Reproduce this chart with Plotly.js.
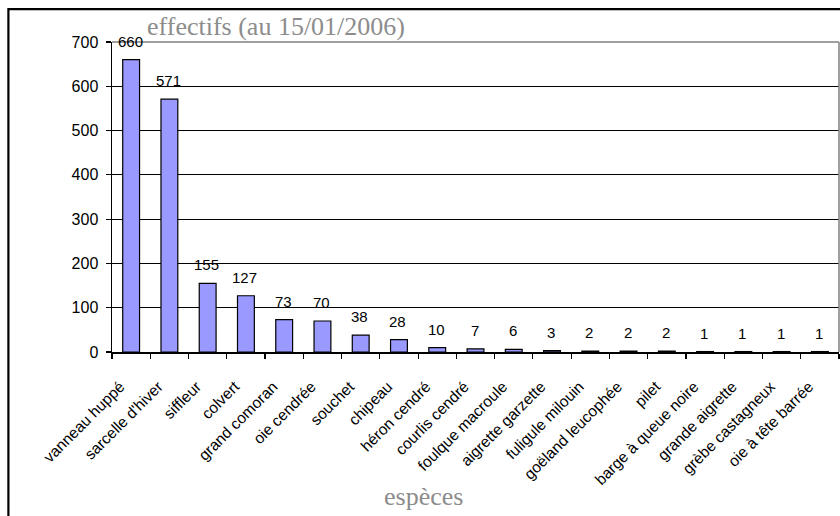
<!DOCTYPE html>
<html>
<head>
<meta charset="utf-8">
<script src="https://cdn.plot.ly/plotly-3.0.1.min.js"></script>
<style>html,body{margin:0;padding:0;background:#fff;}#chart{width:840px;height:516px;}</style>
</head>
<body>
<div id="chart"></div>
<script>
const categories = ["vanneau huppé","sarcelle d'hiver","siffleur","colvert","grand comoran","oie cendrée","souchet","chipeau","héron cendré","courlis cendré","foulque macroule","aigrette garzette","fuligule milouin","goëland leucophée","pilet","barge à queue noire","grande aigrette","grèbe castagneux","oie à tête barrée"];
const values = [660,571,155,127,73,70,38,28,10,7,6,3,2,2,2,1,1,1,1];
const titleText = "effectifs (au 15/01/2006)";
const xTitleText = "espèces";

const labelAnnotations = categories.map((c, i) => ({
  x: c, y: values[i], xref: 'x', yref: 'y',
  text: String(values[i]), showarrow: false,
  yanchor: 'bottom', yshift: 8, xshift: -1,
  font: {family: 'Arial, Liberation Sans', size: 15, color: '#000'}
}));

const data = [{
  type: 'bar', x: categories, y: values,
  marker: {color: '#9999FF', line: {color: '#000', width: 1.2}},
  hoverinfo: 'skip'
}];

const layout = {
  width: 840, height: 516,
  margin: {l: 112, r: 1, t: 42, b: 164},
  paper_bgcolor: '#fff', plot_bgcolor: '#fff',
  bargap: 0.56,
  showlegend: false,
  font: {family: 'Arial, Liberation Sans', color: '#000'},
  xaxis: {
    type: 'category', showline: true, linecolor: '#000', linewidth: 1.5,
    ticks: 'outside', ticklen: 5, tickcolor: '#000', tickwidth: 1.2,
    tickson: 'boundaries', tickangle: -45,
    ticklabelstandoff: 18, ticklabelshift: -11,
    tickfont: {family: 'Arial, Liberation Sans', size: 15.5, color: '#000'},
    showgrid: false, zeroline: false
  },
  yaxis: {
    range: [0, 700], dtick: 100, tick0: 0,
    showline: true, linecolor: '#000', linewidth: 1.5,
    ticks: 'outside', ticklen: 5, tickcolor: '#000', tickwidth: 1.2,
    ticklabelstandoff: 4,
    tickfont: {family: 'Arial, Liberation Sans', size: 16, color: '#000'},
    showgrid: true, gridcolor: '#000', gridwidth: 1, zeroline: false
  },
  shapes: [
    {type: 'rect', xref: 'paper', yref: 'paper', x0: -0.1425, x1: 1.2, y0: -1, y1: 1.106,
     line: {color: '#000', width: 2.2}, fillcolor: 'rgba(0,0,0,0)', layer: 'above'},
    {type: 'line', xref: 'paper', yref: 'paper', x0: 0, x1: 1, y0: 1, y1: 1,
     line: {color: '#808080', width: 1.5}},
    {type: 'line', xref: 'paper', yref: 'paper', x0: 1, x1: 1, y0: 0, y1: 1,
     line: {color: '#808080', width: 1.5}}
  ],
  annotations: labelAnnotations.concat([
    {xref: 'paper', yref: 'paper', x: 0.2256, y: 1, xanchor: 'center', yanchor: 'bottom', yshift: -1,
     text: titleText, showarrow: false,
     font: {family: 'Times New Roman, Liberation Serif, serif', size: 26, color: '#8c8c8c'}},
    {xref: 'paper', yref: 'paper', x: 0.429, y: -0.513, xanchor: 'center', yanchor: 'bottom', yshift: -2,
     text: xTitleText, showarrow: false,
     font: {family: 'Times New Roman, Liberation Serif, serif', size: 26, color: '#8c8c8c'}}
  ])
};

Plotly.newPlot('chart', data, layout, {staticPlot: true, displayModeBar: false});
</script>
</body>
</html>
